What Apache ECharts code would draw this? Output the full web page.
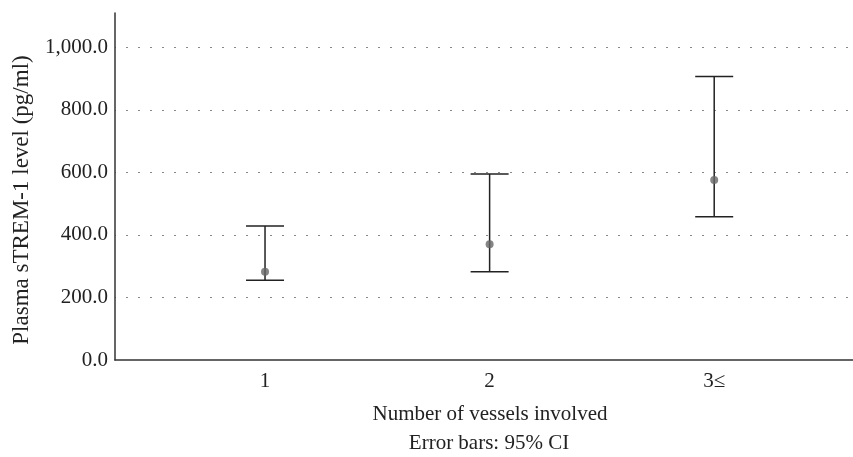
<!DOCTYPE html>
<html>
<head>
<meta charset="utf-8">
<script src="https://cdn.jsdelivr.net/npm/echarts@6/dist/echarts.min.js"></script>
<style>html,body{margin:0;padding:0;background:#fff}#c{width:853px;height:457px}</style>
</head>
<body>
<div id="c"></div>
<script>
const categories = ['1', '2', '3≤'];
const means = [282, 370, 576];
const lowerCI = [255, 282, 458];
const upperCI = [429, 595, 907];
const yTicks = [0, 200, 400, 600, 800, 1000];

const FONT = '"Liberation Serif", "DejaVu Serif", serif';
const chart = echarts.init(document.getElementById('c'));

const barData = categories.map((c, i) => [i, lowerCI[i], upperCI[i]]);
const meanData = categories.map((c, i) => [i, means[i]]);

chart.setOption({
  animation: false,
  backgroundColor: '#fff',
  grid: { left: 115, right: 0, top: 13, bottom: 97 },
  xAxis: {
    type: 'value', min: -0.668, max: 2.618,
    axisLine: { show: true, onZero: false, lineStyle: { color: '#333', width: 1.5 } },
    axisTick: { show: false },
    splitLine: { show: false },
    axisLabel: {
      customValues: categories.map((c, i) => i),
      formatter: v => categories[Math.round(v)] || '',
      color: '#222', fontFamily: FONT, fontSize: 21, margin: 11
    }
  },
  yAxis: {
    type: 'value', min: 0, max: 1110, interval: 200,
    axisLine: { show: true, onZero: false, lineStyle: { color: '#333', width: 1.5 } },
    axisTick: { show: false },
    splitLine: { show: true, showMaxLine: false, showMinLine: false,
      lineStyle: { color: '#888', width: 1, type: [2, 10], dashOffset: 1 } },
    axisLabel: {
      customValues: yTicks,
      formatter: v => v.toLocaleString('en-US', { minimumFractionDigits: 1, maximumFractionDigits: 1 }),
      color: '#222', fontFamily: FONT, fontSize: 21, margin: 7
    }
  },
  graphic: [
    { type: 'text', x: 22, y: 200, rotation: Math.PI / 2,
      style: { text: 'Plasma sTREM-1 level (pg/ml)', font: '23px ' + FONT, fill: '#222', textAlign: 'center', textVerticalAlign: 'middle' } },
    { type: 'text', x: 490, y: 414,
      style: { text: 'Number of vessels involved', font: '21px ' + FONT, fill: '#222', textAlign: 'center', textVerticalAlign: 'middle' } },
    { type: 'text', x: 489, y: 443,
      style: { text: 'Error bars: 95% CI', font: '21px ' + FONT, fill: '#222', textAlign: 'center', textVerticalAlign: 'middle' } }
  ],
  series: [
    {
      type: 'custom',
      data: barData,
      renderItem: function (params, api) {
        const x = api.value(0);
        const lo = api.coord([x, api.value(1)]);
        const hi = api.coord([x, api.value(2)]);
        const hw = 19;
        const st = { stroke: '#222', lineWidth: 1.5 };
        return {
          type: 'group',
          children: [
            { type: 'line', shape: { x1: lo[0], y1: lo[1], x2: hi[0], y2: hi[1] }, style: st },
            { type: 'line', shape: { x1: hi[0] - hw, y1: hi[1], x2: hi[0] + hw, y2: hi[1] }, style: st },
            { type: 'line', shape: { x1: lo[0] - hw, y1: lo[1], x2: lo[0] + hw, y2: lo[1] }, style: st }
          ]
        };
      },
      z: 2
    },
    {
      type: 'scatter',
      data: meanData,
      symbol: 'circle',
      symbolSize: 8,
      itemStyle: { color: '#666' },
      z: 3
    }
  ]
});
</script>
</body>
</html>
